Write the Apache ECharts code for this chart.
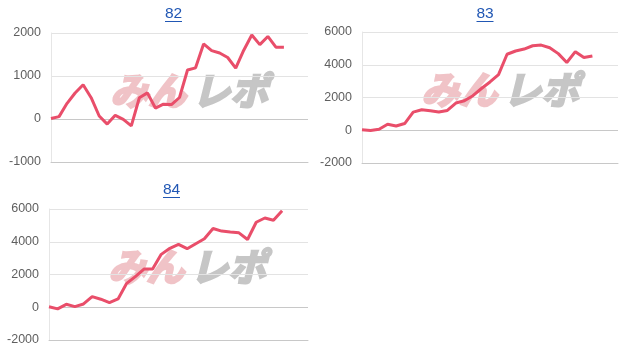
<!DOCTYPE html>
<html>
<head>
<meta charset="utf-8">
<script src="https://cdn.jsdelivr.net/npm/echarts@6/dist/echarts.min.js"></script>
<style>
html,body{margin:0;padding:0;background:#fff;}
#c{width:624px;height:350px;}
</style>
</head>
<body>
<div id="c"></div>
<script>
// ---- data ----
var titles = ["82", "83", "84"];
var days = ["1","2","3","4","5","6","7","8","9","10","11","12","13","14","15","16","17","18","19","20","21","22","23","24","25","26","27","28","29","30","31","32","33"];
var cats82 = days.slice(0, 33);
var cats83 = days.slice(0, 31);
var cats84 = days.slice(0, 31);
var values82 = [10, 55, 365, 605, 795, 495, 70, -118, 85, -10, -160, 495, 608, 255, 345, 335, 500, 1140, 1190, 1745, 1590, 1535, 1430, 1185, 1600, 1955, 1730, 1920, 1670, 1670];
var values83 = [30, -20, 60, 370, 260, 410, 1110, 1250, 1190, 1110, 1210, 1660, 1800, 2110, 2550, 2950, 3400, 4640, 4840, 4960, 5160, 5200, 5040, 4680, 4140, 4800, 4440, 4540];
var values84 = [30, -100, 180, 40, 200, 650, 490, 285, 510, 1460, 1870, 2330, 2330, 3230, 3600, 3840, 3575, 3880, 4180, 4810, 4650, 4590, 4545, 4140, 5190, 5450, 5310, 5900];
var yTicks82 = {min: -1000, max: 2000, interval: 1000};
var yTicks83 = {min: -2000, max: 6000, interval: 2000};
var yTicks84 = {min: -2000, max: 6000, interval: 2000};

// ---- layout/style ----
var LINE = '#e94e6a';
var grids = [
  {left: 51, top: 33, width: 257, height: 129},
  {left: 362, top: 32, width: 256, height: 131},
  {left: 49, top: 209, width: 259, height: 131}
];
var cats = [cats82, cats83, cats84];
var vals = [values82, values83, values84];
var ticks = [yTicks82, yTicks83, yTicks84];
var titlePos = [[174, 6], [485.5, 6], [172, 182]];

var option = {
  animation: false,
  grid: grids,
  xAxis: [], yAxis: [], series: [], graphic: []
};
for (var i = 0; i < 3; i++) {
  option.xAxis.push({
    type: 'category', gridIndex: i, data: cats[i], boundaryGap: false,
    axisLine: {show: true, onZero: false, lineStyle: {color: '#c8c8c8'}},
    axisTick: {show: false}, axisLabel: {show: false}, splitLine: {show: false}
  });
  option.yAxis.push({
    type: 'value', gridIndex: i, min: ticks[i].min, max: ticks[i].max, interval: ticks[i].interval,
    axisLine: {show: true, lineStyle: {color: '#e6e6e6'}},
    axisTick: {show: false},
    axisLabel: {color: '#5f5f5f', fontSize: 12.5, fontFamily: 'Liberation Sans, Arial, sans-serif', margin: 10,
      formatter: function (v) { return String(v); }},
    splitLine: {lineStyle: {color: '#e3e3e3'}}
  });
  option.series.push({
    type: 'line', xAxisIndex: i, yAxisIndex: i, data: vals[i],
    showSymbol: false, symbol: 'none',
    lineStyle: {color: LINE, width: 3}, z: 5,
    markLine: {silent: true, symbol: 'none', label: {show: false},
      lineStyle: {color: '#c8c8c8', type: 'solid', width: 1}, data: [{yAxis: 0}]}
  });
  // title (underlined link-like)
  option.graphic.push({
    type: 'text', left: titlePos[i][0] - 9, top: titlePos[i][1],
    style: {text: titles[i], fill: '#2157b4', font: '15.5px Liberation Sans, Arial, sans-serif'}
  });
  option.graphic.push({
    type: 'rect', left: titlePos[i][0] - 9, top: titlePos[i][1] + 15,
    shape: {width: 17, height: 1}, style: {fill: '#2157b4'}
  });
  // watermark logo text
  var wx = grids[i].left + 58, wy = grids[i].top + 37;
  option.graphic.push({
    type: 'text', left: wx, top: wy, z: 0,
    style: {text: 'みん', fill: '#f0c3c7', stroke: '#f0c3c7', lineWidth: 2.5,
      font: 'italic bold 38px "Noto Sans CJK JP"'}
  });
  option.graphic.push({
    type: 'text', left: wx + 82, top: wy, z: 0,
    style: {text: 'レポ', fill: '#c6c6c6', stroke: '#c6c6c6', lineWidth: 2.5,
      font: 'italic bold 38px "Noto Sans CJK JP"'}
  });
}
var chart = echarts.init(document.getElementById('c'), null, {renderer: 'canvas'});
chart.setOption(option);
</script>
</body>
</html>
